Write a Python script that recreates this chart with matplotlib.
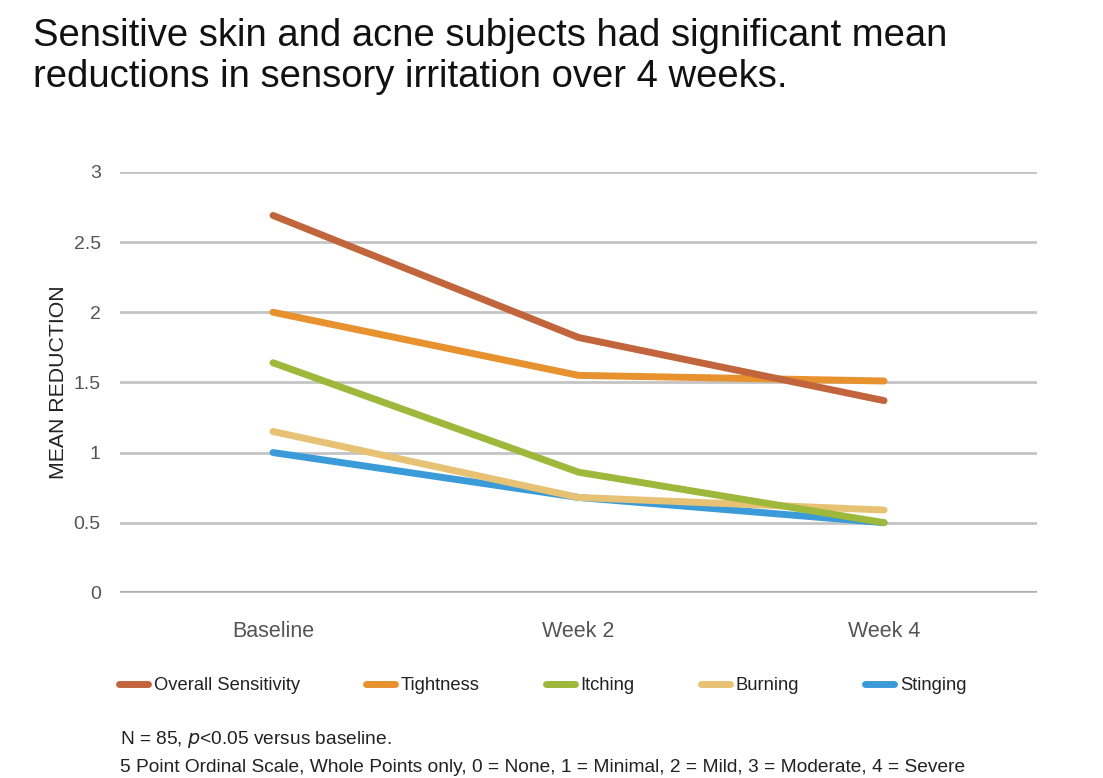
import numpy as np
import matplotlib.pyplot as plt
from matplotlib.lines import Line2D

plt.rcParams['font.family'] = ['Liberation Sans', 'DejaVu Sans']

categories = ['Baseline', 'Week 2', 'Week 4']
series_names = ['Overall Sensitivity', 'Tightness', 'Itching', 'Burning', 'Stinging']
overall = [2.69, 1.82, 1.37]
tightness = [2.00, 1.55, 1.51]
itching = [1.64, 0.86, 0.50]
burning = [1.15, 0.68, 0.59]
stinging = [1.00, 0.68, 0.50]
colors = ['#C2653C', '#E8922F', '#9DB83A', '#E8C274', '#3A9BD8']
yticks = [0, 0.5, 1, 1.5, 2, 2.5, 3]
ytick_labels = ['0', '0.5', '1', '1.5', '2', '2.5', '3']

fig = plt.figure(figsize=(11.03, 7.78), dpi=100)
ax = fig.add_axes([0.109, 0.238, 0.831, 0.541])

x = np.arange(len(categories))
# first series drawn on top
all_series = [overall, tightness, itching, burning, stinging]
for vals, name, c, z in zip(all_series, series_names, colors, range(5, 0, -1)):
    ax.plot(x, vals, color=c, lw=5, solid_capstyle='round', label=name, zorder=z)

ax.set_xlim(-0.5, 2.5)
ax.set_ylim(0, 3)
ax.set_yticks(yticks)
ax.set_yticklabels(ytick_labels)
ax.set_xticks(x)
ax.set_xticklabels(categories)
ax.grid(axis='y', color='#C4C4C4', lw=2)
ax.set_axisbelow(True)
ax.axhline(0, color='#AFAFAF', lw=3, zorder=0.5)
for s in ax.spines.values():
    s.set_visible(False)
ax.tick_params(axis='both', length=0, labelsize=14, colors='#555555')
ax.tick_params(axis='x', pad=20, labelsize=15.5)
ax.tick_params(axis='y', pad=14)
ax.set_ylabel('MEAN REDUCTION', fontsize=15.3, color='#222222', labelpad=4)

fig.text(0.030, 0.977, 'Sensitive skin and acne subjects had significant mean\n'
         'reductions in sensory irritation over 4 weeks.',
         fontsize=27.5, va='top', ha='left', color='#111111', linespacing=1.2)

handles = [Line2D([0], [0], color=c, lw=5, solid_capstyle='round') for c in colors]
fig.legend(handles, series_names, loc='center left', bbox_to_anchor=(0.093, 0.119),
           ncol=5, frameon=False, fontsize=13.2, handlelength=1.6, handletextpad=0.3,
           columnspacing=3.6, labelcolor='#222222')

fig.text(0.109, 0.0495, r'N = 85, $\it{p}$<0.05 versus baseline.', fontsize=13.8,
         color='#222222', va='center')
fig.text(0.109, 0.0135, '5 Point Ordinal Scale, Whole Points only, 0 = None, 1 = Minimal, '
         '2 = Mild, 3 = Moderate, 4 = Severe', fontsize=13.8, color='#222222', va='center')

fig.savefig('out.png', dpi=100)
